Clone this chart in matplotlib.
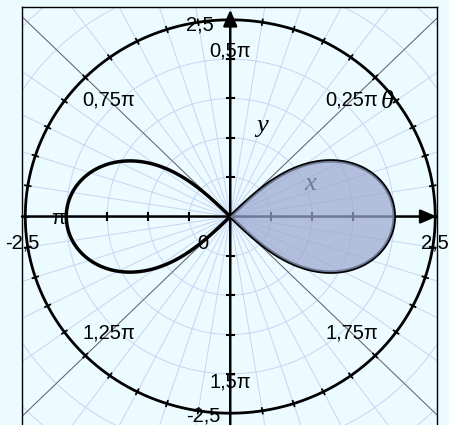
import numpy as np
import matplotlib.pyplot as plt

# lemniscate r^2 = a^2 cos(2θ)
a = 2.0
r_outer = 2.5
grid_radii = [0.5, 1.0, 1.5, 2.0, 2.5, 3.0, 3.5, 4.0]
n_spokes = 40
axis_ticks = [-2.0, -1.5, -1.0, -0.5, 0.5, 1.0, 1.5, 2.0]
angle_fracs = [0.25, 0.5, 0.75, 1.0, 1.25, 1.5, 1.75]
angle_labels = ['0,25π', '0,5π', '0,75π', 'π', '1,25π', '1,5π', '1,75π']

bg = '#ecfbff'
grid_col = '#c8d4f2'
fill_col = '#9ba8cf'

plt.rcParams['font.family'] = ['Liberation Sans', 'DejaVu Sans']

fig = plt.figure(figsize=(4.49, 4.25), dpi=100, facecolor=bg)
ax = fig.add_axes([0.049, -0.013, 0.924, 0.996])
ax.set_facecolor(bg)
ax.set_xlim(-2.54, 2.52)
ax.set_ylim(-2.72, 2.66)
ax.set_xticks([])
ax.set_yticks([])
for s in ax.spines.values():
    s.set_linewidth(1.0)
    s.set_color('black')

# polar grid
t = np.linspace(0, 2 * np.pi, 400)
for rr in grid_radii:
    ax.plot(rr * np.cos(t), rr * np.sin(t), color=grid_col, lw=0.7, zorder=1)
for k in range(n_spokes):
    ang = 2 * np.pi * k / n_spokes
    ax.plot([0, 4.5 * np.cos(ang)], [0, 4.5 * np.sin(ang)], color=grid_col, lw=0.7, zorder=1)

# diagonals
for k in range(4):
    ang = np.pi / 4 + k * np.pi / 2
    ax.plot([0, 4.5 * np.cos(ang)], [0, 4.5 * np.sin(ang)], color='#666666', lw=0.7, zorder=2)

# outer circle with ticks
ax.plot(r_outer * np.cos(t), r_outer * np.sin(t), color='black', lw=2.0, zorder=3)
for k in range(n_spokes):
    ang = 2 * np.pi * k / n_spokes
    ax.plot([(r_outer - 0.035) * np.cos(ang), (r_outer + 0.035) * np.cos(ang)],
            [(r_outer - 0.035) * np.sin(ang), (r_outer + 0.035) * np.sin(ang)],
            color='black', lw=1.3, zorder=3)

# cartesian axes with arrows
ax.annotate('', xy=(2.52, 0), xytext=(-2.54, 0),
            arrowprops=dict(arrowstyle='-|>,head_length=0.7,head_width=0.3',
                            color='black', lw=1.8, mutation_scale=14,
                            shrinkA=0, shrinkB=0), zorder=3)
ax.annotate('', xy=(0, 2.63), xytext=(0, -2.72),
            arrowprops=dict(arrowstyle='-|>,head_length=0.7,head_width=0.3',
                            color='black', lw=1.8, mutation_scale=14,
                            shrinkA=0, shrinkB=0), zorder=3)
for v in axis_ticks:
    ax.plot([v, v], [-0.04, 0.04], color='black', lw=1.5, zorder=3)
    ax.plot([-0.04, 0.04], [v, v], color='black', lw=1.5, zorder=3)

# labels
fs = 14.5
ax.text(-0.37, 2.43, '2,5', fontsize=fs, ha='center', va='center', zorder=6)
ax.text(-0.33, -2.54, '-2,5', fontsize=fs, ha='center', va='center', zorder=6)
ax.text(-2.54, -0.34, '-2,5', fontsize=fs, ha='center', va='center', zorder=6)
ax.text(2.49, -0.34, '2,5', fontsize=fs, ha='center', va='center', zorder=6)
ax.text(-0.34, -0.34, '0', fontsize=fs, ha='center', va='center', zorder=6)
for f, lab in zip(angle_fracs, angle_labels):
    ang = f * np.pi
    rr = 2.1
    dy = -0.03 if lab == 'π' else 0
    ax.text(rr * np.cos(ang), rr * np.sin(ang) + dy, lab, fontsize=fs,
            ha='center', va='center', zorder=6)
ax.text(1.92, 1.45, 'θ', fontsize=19, family='Liberation Serif', style='italic',
        ha='center', va='center', zorder=6)
ax.text(0.39, 1.15, 'y', fontsize=19, family='Liberation Serif', style='italic',
        ha='center', va='center', zorder=6)
ax.text(0.98, 0.41, 'x', fontsize=19, family='Liberation Serif', style='italic',
        color='black', ha='center', va='center', zorder=3)

# lemniscate
th_r = np.linspace(-np.pi / 4, np.pi / 4, 600)
r_r = a * np.sqrt(np.clip(np.cos(2 * th_r), 0, None))
th_l = th_r + np.pi
ax.plot(r_r * np.cos(th_l), r_r * np.sin(th_l), color='black', lw=2.5, zorder=4)
ax.plot(r_r * np.cos(th_r), r_r * np.sin(th_r), color='black', lw=2.5, zorder=4)
ax.fill(r_r * np.cos(th_r), r_r * np.sin(th_r), color=fill_col, alpha=0.72, lw=0, zorder=5)

fig.savefig('out.png', dpi=100, facecolor=bg)
